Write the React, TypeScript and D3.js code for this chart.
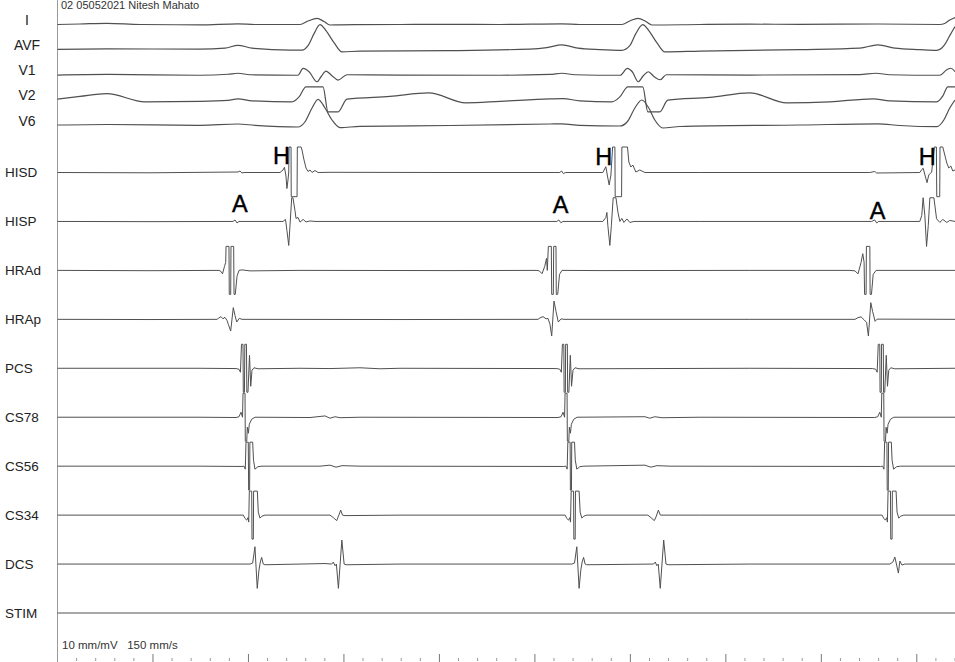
import React from "react";
import * as d3 from "d3";

const W = 955;
const H = 662;

// channel order, top to bottom
const surfaceLeads = ["I", "AVF", "V1", "V2", "V6"];
const intraLeads = ["HISD", "HISP", "HRAd", "HRAp", "PCS", "CS78", "CS56", "CS34", "DCS", "STIM"];

const headerText = "02 05052021 Nitesh Mahato";
const scaleText = "10 mm/mV   150 mm/s";

// [time (ms), amplitude (mV)]
const leadI = [[0, 0], [23.6, 0.05], [51.8, 0.12], [86.4, 0], [149.3, -0.03], [189, 0.07], [206.8, 0], [254, 0], [262.4, 0.35], [271.8, 0.62], [279.1, 0.3], [285.4, -0.05], [295.9, -0.03], [358.7, 0], [411.1, 0.02], [463.5, 0], [528.2, 0.07], [547, 0], [591, 0], [599.4, 0.35], [607.8, 0.62], [616.2, 0.3], [622.5, -0.05], [672.8, 0], [725.1, 0.03], [777.5, 0.02], [859.2, 0.05], [924.1, 0], [929.2, 0.1], [934.5, 0.45], [940, 0.7]];

const leadAVF = [[0, 0.03], [51.8, 0.07], [149.3, 0.05], [175.4, 0.15], [189, 0.43], [203.7, 0.15], [243.5, -0.05], [256.1, -0.05], [262.4, 0.4], [268.7, 1.6], [274.9, 2.5], [281.2, 1.9], [289.6, 0.7], [298, -0.23], [316.8, -0.15], [411.1, -0.1], [494.7, 0.05], [512.5, 0.2], [528.2, 0.47], [545, 0.15], [568, 0], [591, -0.07], [599.4, 0.4], [605.7, 1.6], [613, 2.5], [619.3, 1.9], [627.7, 0.7], [636.1, -0.23], [672.8, -0.15], [777.5, 0], [840.3, 0.15], [859.2, 0.47], [877, 0.15], [903.2, 0], [921, -0.07], [929.2, 0.5], [934.5, 1.4], [940, 2.3]];

const leadV1 = [[0, -0.03], [51.8, 0.03], [149.3, -0.05], [178.6, 0.05], [189, 0.15], [201.6, 0], [251.9, -0.05], [257.2, 0.63], [263.5, 0.3], [271.8, -0.7], [276, -0.2], [281.2, 0.37], [287.5, -0.1], [293.8, -0.53], [303.2, 0], [358.7, -0.03], [463.5, -0.05], [515.8, 0.03], [528.2, 0.15], [541.9, 0], [589.4, -0.05], [596.8, 0.63], [602, 0.3], [608.3, -0.7], [613.5, -0.1], [618.8, 0.3], [625, -0.2], [631.3, -0.5], [637.6, 0], [725.1, -0.03], [840.3, 0.02], [857.1, 0.15], [871.8, 0], [924.1, -0.05], [931.4, 0.5], [935.6, 0.65], [940, 0.3]];

const leadV2 = [[0, 0.07], [23.6, 0.35], [51.8, 0.63], [91.6, -0.2], [149.3, -0.15], [178.6, -0.05], [189, 0.1], [203.7, -0.1], [245.6, -0.2], [253, 0.3], [260.3, 1.3], [278.1, 1.3], [283.3, -1.2], [293.8, -1.2], [303.2, 0.07], [348.2, 0.35], [389, 0.7], [427.7, -0.3], [463.5, -0.15], [515.8, 0.1], [529.3, 0.13], [547.1, -0.1], [580.6, -0.2], [589, 0.3], [597.4, 1.3], [613, 1.3], [618.3, -1.2], [630.8, -1.2], [639.2, -0.03], [683.2, 0.25], [725.1, 0.7], [763.8, -0.3], [808.8, -0.2], [854.1, 0.1], [871.8, -0.1], [921, -0.2], [927.3, 0.4], [932.5, 1.3], [940, 1.3]];

const leadV6 = [[0, 0], [51.8, 0.05], [149.3, -0.03], [189, 0.1], [206.8, -0.03], [251.9, -0.2], [259.1, 0.3], [266.6, 1.7], [272.9, 2.57], [280.2, 1.7], [287.5, 0.5], [295.9, -0.27], [316.8, -0.13], [411.1, -0.05], [515.8, 0.1], [528.2, 0.12], [547, -0.03], [589, -0.1], [597.4, 0.4], [604.7, 1.7], [612, 2.5], [619.3, 1.7], [625.6, 0.5], [634, -0.3], [651.8, -0.15], [777.5, 0], [859.2, 0.12], [882.3, -0.05], [921, -0.17], [928.3, 0.5], [934.5, 1.7], [940, 2.5]];

const hisD = [[0, 0], [96.9, -0.03], [189, 0.05], [191.1, 0.15], [193.2, -0.05], [195.3, 0], [233, 0], [236.2, 0.25], [237.7, 0.52], [239.3, -0.35], [240.3, -1.6], [241.4, -0.75], [242.2, 0.05], [242.5, 2.55], [244.6, 2.55], [244.8, -2.42], [250.9, -2.42], [251.2, 2.55], [255.1, 2.55], [256.1, 2.25], [258.2, 1.25], [260.3, 0.45], [262.4, 0.1], [264.5, 0.25], [266.6, 0], [269.7, 0.2], [272.9, 0], [285.4, 0.02], [411.1, 0], [526.1, 0], [527.9, 0.15], [529.8, -0.1], [532.4, 0], [571.2, 0], [574.3, 0.58], [576.4, -0.55], [577.8, -1.25], [579.6, -0.25], [581.4, 2.55], [583.8, 2.55], [584.1, -2.42], [590.8, -2.42], [591.1, 2.55], [597, 2.55], [598.4, 1.05], [600.5, 0.55], [602.6, 0.75], [605.7, 0.05], [609.9, 0.25], [615.2, 0], [672.8, 0], [850.7, 0], [855.9, 0.1], [858, -0.05], [903.1, 0], [905.2, 0.3], [906.7, 0.42], [908.8, -0.35], [910.7, -1.02], [912.5, -0.25], [915.6, 0.05], [918.4, 2.55], [920.5, 2.55], [920.9, -2.42], [924, -2.42], [924.3, 2.55], [927.2, 2.55], [929.3, 1.75], [931.4, 0.95], [933.5, 0.45], [935.6, 0.65], [937.7, 0.15], [940, 0.25]];

const hisP = [[0, 0], [96.9, -0.02], [183.8, 0], [185.9, 0.15], [188, -0.15], [190.1, 0], [236.2, 0], [238.8, 0.2], [240.3, -0.9], [242.2, -2.4], [243.5, -0.4], [245.3, 2.37], [246.6, 2.37], [248.7, 1.1], [249.8, 0.3], [251.9, 0.4], [254, -0.07], [257.2, 0.2], [260.3, -0.05], [264.5, 0.05], [269.7, 0], [411.1, 0], [523, 0], [525.1, 0.15], [527.2, -0.13], [529.3, 0], [571.2, 0], [574.3, 0.4], [575.4, 0.9], [576.4, -0.4], [578.5, -2.4], [580.1, -0.4], [582, 2.37], [584.9, 2.37], [587, 0.9], [589, 0], [591.1, 0.3], [593.2, -0.1], [596.4, 0.25], [599.5, -0.1], [603.7, 0], [672.8, 0], [852.8, 0], [855.9, 0.15], [858, -0.15], [860.1, 0], [903.1, 0], [905.2, 0.6], [906.6, 2.37], [908.4, 0.6], [910.2, -2.5], [912, -0.4], [913.7, 2.37], [917.9, 2.37], [920.7, 0.27], [924.1, -0.1], [927.3, 0.2], [931.4, -0.1], [934.5, 0.1], [940, 0]];

const hraD = [[0, 0], [96.9, -0.03], [169.2, 0], [171.2, -0.1], [172.8, -0.35], [174.9, 0.4], [176.2, 0.8], [176.5, 2.4], [179.6, 2.4], [179.9, -2.4], [181.4, -2.4], [181.7, 2.4], [184.5, 2.4], [184.9, -2.4], [186.2, -2.4], [188, -0.6], [190.1, 0], [193.2, 0.05], [201.6, -0.05], [254, 0], [411.1, -0.02], [502.2, 0], [504.6, -0.05], [507.5, -0.33], [510.3, 0.4], [512.2, 1.2], [513, 0], [514.1, 2.4], [517.2, 2.4], [517.6, -2.4], [519.3, -2.4], [519.7, 2.4], [522.1, 2.4], [522.4, -2.4], [523.9, -2.4], [525.8, -0.4], [528.4, 0], [568.2, -0.02], [725.1, 0], [830, 0], [835.3, -0.05], [838.4, -0.35], [841.6, 0.8], [843.4, 1.67], [844.8, 0.8], [845.3, -2.4], [846.9, -2.4], [847.2, 2.4], [850.8, 2.4], [851.1, -2.4], [852.5, -2.4], [854.3, -0.4], [857.4, 0], [940, 0]];

const hraP = [[0, 0], [96.9, -0.02], [167.1, 0], [168.4, 0.1], [171.2, 0.27], [173.3, 0.05], [175.4, 0.2], [177.5, -0.1], [178.9, -0.5], [181.4, -1.17], [184.1, 1.17], [185.9, 0.4], [187.7, -0.27], [190.4, 0.1], [193.2, 0], [358.7, -0.02], [503.3, 0], [505.4, 0.15], [508.5, 0.27], [511.7, 0.05], [513.7, 0.1], [515.8, -0.5], [517.6, -1.67], [520, 1.83], [522.1, 0.8], [524.5, -0.27], [527.4, 0.05], [530.5, 0], [725.1, 0], [835.3, 0], [838.4, 0.17], [841.6, 0.25], [844.8, -0.05], [847.4, -0.3], [849.3, -1.67], [851.8, 1.67], [853.7, 0.8], [856.3, -0.2], [858.4, 0.02], [940, 0]];

const pcs = [[0, 0], [149.3, 0], [187, -0.03], [190.1, -0.1], [191.6, -0.4], [192.7, 2.4], [194.3, 2.4], [194.6, -2.4], [195.8, -2.4], [196.2, 2.4], [197.9, 2.4], [198.3, -2.4], [199.5, -2.4], [201.1, 1.3], [202.4, -1.8], [203.7, -0.2], [205.8, 0.05], [210, -0.05], [254, 0], [285.4, -0.03], [316.8, 0.05], [337.7, -0.05], [358.7, 0], [523, -0.03], [526.1, -0.1], [527.7, -0.4], [528.8, 2.4], [530.3, 2.4], [530.6, -2.4], [531.9, -2.4], [532.2, 2.4], [534, 2.4], [534.3, -2.4], [535.6, -2.4], [537.1, 1.3], [538.4, -1.8], [539.9, -0.2], [542, 0.05], [546.2, -0.05], [725.1, 0], [853.8, -0.03], [857, -0.1], [858.5, -0.4], [859.6, 2.4], [861.2, 2.4], [861.5, -2.4], [862.8, -2.4], [863.1, 2.4], [864.9, 2.4], [865.2, -2.4], [866.4, -2.4], [868, 1.3], [869.3, -1.8], [870.6, -0.2], [872.7, 0.05], [876.9, -0.05], [940, 0]];

const cs78 = [[0, 0], [149.3, 0], [187, -0.03], [190.1, 0.05], [192.2, 0.5], [193.8, 0], [194.3, 2.4], [196.4, 2.4], [196.7, -2.4], [198.2, -2.4], [198.8, -1], [199.9, -1.6], [200.9, -0.7], [203.4, -0.2], [206.9, 0], [264.5, -0.03], [280.2, 0.13], [285.4, -0.1], [290.7, 0.05], [295.9, -0.05], [316.8, 0], [524.2, -0.03], [527.4, 0.05], [529.5, 0.5], [531.1, 0], [531.6, 2.4], [533.7, 2.4], [534, -2.4], [535.5, -2.4], [536.1, -1], [537.2, -1.6], [538.2, -0.7], [540.7, -0.2], [544.2, 0], [615.2, 0.05], [620.4, -0.1], [625.6, 0.05], [633, -0.05], [672.8, 0], [855.9, -0.03], [859.1, 0.05], [861.2, 0.5], [862.8, 0], [863.3, 2.4], [865.4, 2.4], [865.7, -2.4], [867.2, -2.4], [867.8, -1], [868.9, -1.6], [869.9, -0.7], [872.4, -0.2], [875.9, 0], [940, 0]];

const cs56 = [[0, 0], [149.3, 0], [193.2, -0.03], [195.3, 0], [196.7, -0.3], [197.4, 2.4], [199.8, 2.4], [200.2, -2.4], [201.2, -2.4], [201.5, 2.4], [204.4, 2.4], [205.3, 0.6], [206.8, -0.3], [210, -0.05], [214.2, 0], [274.9, 0], [285.4, 0.1], [291.7, -0.1], [298, 0.05], [316.8, 0], [530.3, -0.03], [532.4, 0], [533.8, -0.3], [534.5, 2.4], [536.9, 2.4], [537.2, -2.4], [538.3, -2.4], [538.6, 2.4], [541.5, 2.4], [542.3, 0.6], [543.9, -0.3], [547.1, -0.05], [551.3, 0], [615.2, 0.1], [621.5, -0.1], [627.8, 0.05], [641.4, 0], [862.1, -0.03], [864.2, 0], [865.6, -0.3], [866.3, 2.4], [868.7, 2.4], [869, -2.4], [870.1, -2.4], [870.4, 2.4], [873.3, 2.4], [874.1, 0.6], [875.7, -0.3], [878.9, -0.05], [883.1, 0], [940, 0]];

const cs34 = [[0, 0], [149.3, 0], [194.6, 0], [196.4, -0.33], [198.2, -0.5], [199.5, -0.25], [200.3, -0.7], [200.9, 2.4], [203.4, 2.4], [203.7, -2.4], [205.1, -2.4], [205.4, 2.4], [209.3, 2.4], [210.3, 0.3], [212.1, -0.3], [214.2, -0.1], [217.3, 0], [285.4, 0], [288.9, -0.25], [292.4, -0.55], [294.3, -0.1], [296.6, 0.5], [298.5, 0], [301.1, -0.05], [358.7, 0], [531.7, 0], [533.4, -0.33], [535.2, -0.5], [536.6, -0.25], [537.3, -0.7], [538, 2.4], [540.5, 2.4], [540.8, -2.4], [542.2, -2.4], [542.5, 2.4], [546.3, 2.4], [547.4, 0.3], [549.2, -0.3], [551.3, -0.1], [554.4, 0], [618.3, 0], [621.5, -0.25], [625.1, -0.55], [627.2, -0.1], [629.3, 0.5], [631.4, 0], [672.8, 0], [863.6, 0], [865.4, -0.33], [867.1, -0.5], [868.5, -0.25], [869.2, -0.7], [869.9, 2.4], [872.4, 2.4], [872.7, -2.4], [874.1, -2.4], [874.4, 2.4], [878.3, 2.4], [879.3, 0.3], [881.1, -0.3], [883.2, -0.1], [886.4, 0], [940, 0]];

const dcs = [[0, 0], [149.3, 0], [201.6, 0], [204.4, 0.1], [206.8, 1.73], [209.2, -2.43], [211, -0.6], [212.4, 0.2], [213.8, 0.67], [215.5, 0], [217.3, -0.07], [254, 0], [280.2, 0.05], [287.2, 0], [288.9, 0.2], [290.7, -0.17], [292.1, 0], [294.2, -2.43], [297.8, 2.4], [300.2, 0], [302.3, -0.07], [358.7, 0], [538.7, 0], [541.5, 0.1], [543.9, 1.73], [546.3, -2.43], [548.1, -0.6], [549.5, 0.2], [551, 0.67], [552.6, 0], [554.4, -0.07], [624.3, 0], [626, 0.2], [627.8, -0.17], [629.2, 0], [631.3, -2.43], [634.9, 2.4], [637.3, 0], [639.4, -0.07], [725.1, 0], [871.8, 0], [874.9, 0.2], [877, 0.7], [879.1, -0.2], [880.7, -0.9], [882.3, 0.3], [884.4, -0.1], [887.5, 0], [940, 0]];

const stim = [[0, 0], [940, 0]];

// annotation letters: [label, time ms, channel, height above baseline mV]
const marks = [
  ["H", 234.5, "HISD", 0.9],
  ["A", 191, "HISP", 0.9],
  ["H", 572, "HISD", 0.75],
  ["A", 527, "HISP", 0.85],
  ["H", 911, "HISD", 0.75],
  ["A", 859, "HISP", 0.2],
];

const traces = {
  I: leadI, AVF: leadAVF, V1: leadV1, V2: leadV2, V6: leadV6,
  HISD: hisD, HISP: hisP, HRAd: hraD, HRAp: hraP, PCS: pcs,
  CS78: cs78, CS56: cs56, CS34: cs34, DCS: dcs, STIM: stim,
};

const font = "'Liberation Sans', Arial, sans-serif";

export default function App() {
  const x = d3.scaleLinear().domain([0, 940]).range([57.5, W]);
  const ySurf = d3.scalePoint().domain(surfaceLeads).range([24.5, 125]);
  const yIntra = d3.scalePoint().domain(intraLeads).range([172.5, 613]);
  const mv = d3.scaleLinear().domain([0, 1]).range([0, -10]);

  const base = (ch) => (surfaceLeads.includes(ch) ? ySurf(ch) : yIntra(ch));

  const pathFor = (ch) => {
    const b = base(ch);
    const curve = surfaceLeads.includes(ch) ? d3.curveMonotoneX : d3.curveLinear;
    return d3.line().x((d) => x(d[0])).y((d) => b + mv(d[1])).curve(curve)(traces[ch]);
  };

  const majorTicks = x.ticks(10).filter((t) => t > 0);
  const minorTicks = d3.range(0, 941, 20).filter((t) => t % 100 !== 0);

  return (
    <svg width={W} height={H} style={{ position: "absolute", left: 0, top: 0, background: "#fff" }}>
      <rect width={W} height={H} fill="#fff" />
      <line x1={57.5} x2={57.5} y1={0} y2={H} stroke="#9a9a9a" strokeWidth={1} />

      <text x={61} y={9} fontFamily={font} fontSize={11} fill="#333">{headerText}</text>

      {surfaceLeads.map((ch) => (
        <text key={"l" + ch} x={27} y={base(ch) + 0.5} textAnchor="middle" fontFamily={font} fontSize={14} fill="#222">{ch}</text>
      ))}
      {intraLeads.map((ch) => (
        <text key={"l" + ch} x={5} y={base(ch) + 4.5} fontFamily={font} fontSize={13.5} fill="#222">{ch}</text>
      ))}

      {[...surfaceLeads, ...intraLeads].map((ch) => (
        <path key={ch} d={pathFor(ch)} fill="none" stroke="#505050"
          strokeWidth={surfaceLeads.includes(ch) ? 1.2 : 1} strokeLinejoin="round" />
      ))}

      {marks.map(([label, t, ch, h], i) => (
        <text key={"m" + i} x={x(t)} y={base(ch) + mv(h)} textAnchor="middle" fontFamily={font} fontSize={23.5} fill="#000" stroke="#000" strokeWidth={0.4}>{label}</text>
      ))}

      <text x={62} y={649} fontFamily={font} fontSize={11.5} fill="#333" style={{ whiteSpace: "pre" }}>{scaleText}</text>

      {majorTicks.map((t) => (
        <line key={"M" + t} x1={x(t)} x2={x(t)} y1={654} y2={H} stroke="#777" />
      ))}
      {minorTicks.map((t) => (
        <line key={"m" + t} x1={x(t)} x2={x(t)} y1={658} y2={661} stroke="#999" />
      ))}
    </svg>
  );
}
